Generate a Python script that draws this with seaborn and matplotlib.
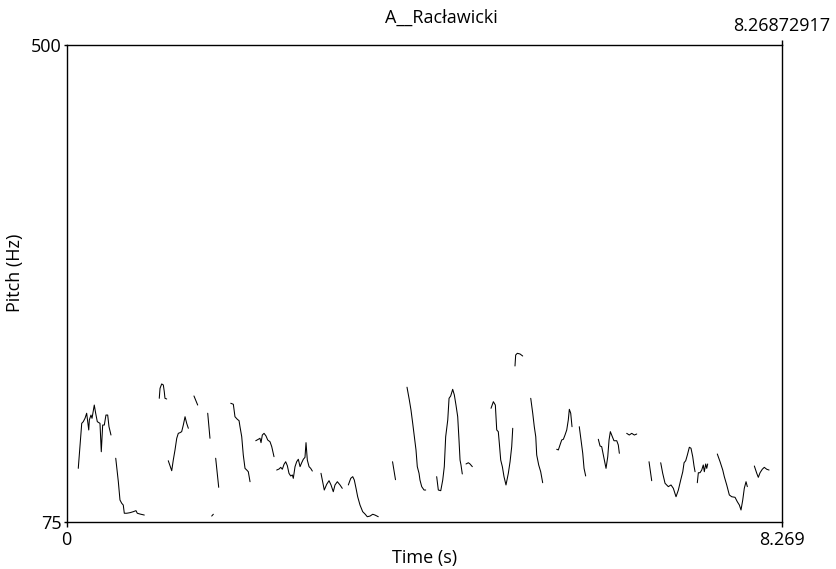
import numpy as np
import pandas as pd
import matplotlib
matplotlib.use("Agg")
import matplotlib.pyplot as plt
import seaborn as sns

# ----------------- chart data -----------------
TITLE = "A__Racławicki"
X_LABEL = "Time (s)"
Y_LABEL = "Pitch (Hz)"
T_MIN, T_MAX = 0.0, 8.26872917
F_MIN, F_MAX = 75, 500
X_TICK_LABELS = ["0", "8.269"]
Y_TICK_LABELS = ["75", "500"]
TOP_LABEL = "8.26872917"

# voiced stretches of the pitch track: time in s, pitch in Hz
seg_times = [
    [0.136, 0.176, 0.194, 0.214, 0.233, 0.257, 0.264, 0.283, 0.295, 0.321, 0.337, 0.356, 0.387, 0.402, 0.418, 0.437, 0.456, 0.476, 0.491, 0.514],
    [0.569, 0.599, 0.618, 0.638, 0.656, 0.668, 0.696, 0.734, 0.772, 0.803, 0.818, 0.849, 0.899],
    [1.072, 1.081, 1.100, 1.119, 1.130, 1.138, 1.158],
    [1.176, 1.216, 1.234, 1.254, 1.274, 1.292, 1.312, 1.331, 1.350, 1.370, 1.389, 1.408],
    [1.473, 1.516],
    [1.632, 1.658],
    [1.678, 1.697],
    [1.724, 1.759],
    [1.898, 1.928, 1.947, 1.974, 1.994, 2.005, 2.025, 2.043, 2.063, 2.083, 2.101, 2.121],
    [2.187, 2.217, 2.236, 2.248, 2.263, 2.283, 2.306, 2.325, 2.352, 2.372, 2.398],
    [2.429, 2.456, 2.476, 2.494, 2.514, 2.533, 2.552, 2.571, 2.591, 2.610, 2.621, 2.641, 2.660, 2.679, 2.699, 2.718, 2.737, 2.756, 2.768, 2.783, 2.803, 2.822, 2.841],
    [2.941, 2.979, 3.007, 3.034, 3.057, 3.083, 3.103, 3.130, 3.161, 3.187],
    [3.257, 3.285, 3.308, 3.326, 3.346, 3.365, 3.392, 3.423, 3.450, 3.476, 3.508, 3.539, 3.565, 3.603],
    [3.768, 3.802],
    [3.935, 3.962, 3.981, 4.001, 4.020, 4.039, 4.054, 4.074, 4.085, 4.105, 4.132, 4.151],
    [4.278, 4.297, 4.325, 4.348, 4.366, 4.382, 4.406, 4.421, 4.440, 4.463, 4.482, 4.501, 4.521, 4.536, 4.548, 4.559, 4.574],
    [4.617, 4.644, 4.663, 4.690],
    [4.906, 4.933, 4.956, 4.972, 4.990, 5.002, 5.018, 5.037, 5.056, 5.079, 5.106, 5.126, 5.145, 5.157],
    [5.183, 5.191, 5.210, 5.241, 5.272],
    [5.365, 5.388, 5.406, 5.423, 5.434, 5.457, 5.480, 5.503],
    [5.665, 5.684, 5.703, 5.723, 5.742, 5.761, 5.781, 5.799, 5.811, 5.827, 5.842],
    [5.926, 5.946, 5.966, 5.981, 6.000],
    [6.146, 6.166, 6.185, 6.204, 6.235, 6.255, 6.270, 6.285, 6.308, 6.327, 6.359, 6.377, 6.389],
    [6.474, 6.504, 6.532, 6.562, 6.590],
    [6.732, 6.763],
    [6.867, 6.890, 6.917, 6.955, 6.986, 7.013, 7.044, 7.071, 7.098, 7.122, 7.137, 7.156, 7.175, 7.198, 7.217, 7.237, 7.252, 7.264],
    [7.290, 7.302, 7.321, 7.341, 7.359, 7.371, 7.387, 7.399, 7.410],
    [7.521, 7.553, 7.584, 7.602, 7.630, 7.660, 7.688, 7.726, 7.752, 7.776, 7.795, 7.815, 7.833, 7.853, 7.868],
    [7.949, 7.977, 7.995, 8.015, 8.041, 8.064, 8.092, 8.119],
]
seg_pitch = [
    [122.8, 162.9, 164.4, 167.4, 171.9, 157.0, 165.9, 170.3, 167.4, 179.2, 171.9, 164.4, 162.9, 137.6, 161.4, 161.4, 170.3, 170.3, 159.9, 152.5],
    [131.8, 110.9, 94.6, 91.7, 90.1, 82.8, 82.8, 83.3, 84.2, 85.1, 82.8, 82.1, 81.2],
    [185.2, 194.1, 198.0, 197.1, 191.1, 185.2, 184.6],
    [129.6, 120.7, 130.2, 139.2, 149.6, 154.0, 154.6, 155.5, 161.4, 168.8, 162.9, 158.5],
    [187.3, 179.2],
    [171.9, 149.6],
    [80.3, 81.9],
    [131.8, 105.9],
    [180.8, 179.9, 168.8, 166.5, 165.3, 159.9, 151.0, 134.7, 122.8, 121.3, 119.8, 110.9],
    [147.4, 148.7, 149.6, 145.7, 152.5, 154.0, 151.6, 148.1, 146.5, 142.1, 133.2],
    [121.3, 122.2, 123.7, 122.0, 126.4, 128.7, 125.2, 118.4, 116.0, 116.9, 113.9, 124.3, 128.7, 130.9, 124.3, 127.8, 130.9, 132.6, 145.7, 130.2, 124.3, 122.8, 120.4],
    [118.4, 103.5, 108.6, 111.8, 108.0, 102.0, 108.0, 110.9, 108.0, 105.0],
    [108.0, 113.9, 115.4, 112.4, 105.0, 97.5, 90.1, 84.2, 82.1, 79.7, 80.3, 81.9, 81.2, 79.7],
    [128.7, 112.7],
    [195.1, 183.7, 174.8, 162.9, 151.0, 139.2, 124.3, 118.4, 112.4, 106.5, 103.5, 103.5],
    [115.4, 103.5, 102.9, 112.4, 124.3, 151.0, 165.9, 185.2, 187.3, 193.2, 188.2, 179.2, 168.8, 148.1, 130.2, 125.8, 117.8],
    [126.7, 127.8, 126.7, 124.3],
    [176.3, 182.2, 179.2, 157.0, 155.5, 145.1, 130.2, 124.3, 115.4, 108.0, 118.4, 128.7, 142.1, 158.5],
    [214.0, 223.8, 225.3, 224.7, 222.9],
    [185.2, 171.9, 159.9, 151.0, 134.7, 125.8, 119.8, 110.0],
    [139.8, 139.2, 143.6, 148.1, 148.7, 152.5, 157.0, 165.9, 175.4, 171.9, 159.9],
    [159.9, 148.1, 136.2, 122.8, 116.0],
    [148.7, 142.7, 142.1, 134.7, 122.8, 133.2, 148.1, 155.5, 151.0, 147.4, 147.4, 143.6, 136.2],
    [154.0, 152.5, 154.0, 152.5, 153.4],
    [128.7, 111.8],
    [127.8, 118.4, 109.5, 106.5, 108.0, 105.0, 97.5, 103.5, 112.4, 119.8, 127.8, 129.6, 134.7, 141.6, 140.7, 133.2, 124.9, 119.8],
    [110.0, 118.9, 118.9, 121.3, 125.8, 119.8, 126.7, 122.8, 126.7],
    [135.6, 128.7, 121.3, 115.4, 108.0, 99.1, 97.5, 97.0, 93.1, 90.1, 85.7, 94.6, 105.0, 110.9, 106.5],
    [124.9, 118.4, 114.8, 118.9, 122.0, 123.7, 122.0, 121.3],
]
# -----------------------------------------------------------------------

rows = []
for i, (ts, fs) in enumerate(zip(seg_times, seg_pitch)):
    for t, f in zip(ts, fs):
        rows.append({"seg": i, "time": t, "pitch": f})
df = pd.DataFrame(rows)

sns.set_style("white")
plt.rcParams["font.family"] = ["Open Sans", "DejaVu Sans"]
plt.rcParams["text.color"] = "black"
plt.rcParams["axes.labelcolor"] = "black"
plt.rcParams["xtick.color"] = "black"
plt.rcParams["ytick.color"] = "black"
FS = 13

fig = plt.figure(figsize=(8.37, 5.69), dpi=100)
ax = fig.add_axes([66.5 / 837, 1 - 522 / 569, (782 - 66.5) / 837, (522 - 45) / 569])

sns.lineplot(data=df, x="time", y="pitch", units="seg", estimator=None,
             sort=False, color="black", linewidth=0.75, ax=ax)

ax.set_xlim(T_MIN, T_MAX)
ax.set_ylim(F_MIN, F_MAX)
for sp in ax.spines.values():
    sp.set_visible(True)
    sp.set_color("black")
    sp.set_linewidth(1.0)

ax.set_xticks([T_MIN, T_MAX])
ax.set_xticklabels(X_TICK_LABELS)
ax.set_yticks([F_MIN, F_MAX])
ax.set_yticklabels(Y_TICK_LABELS)
ax.tick_params(axis="x", direction="out", length=3.5, width=1.0, pad=3,
               labelsize=FS, colors="black", bottom=True)
ax.tick_params(axis="y", direction="out", length=2.5, width=1.0, pad=1,
               labelsize=FS, colors="black", left=True)

top = ax.secondary_xaxis("top")
top.set_xticks([T_MAX])
top.set_xticklabels([TOP_LABEL])
top.tick_params(direction="out", length=3.5, width=1.0, pad=4, labelsize=FS,
                colors="black")
top.spines["top"].set_visible(False)

ax.set_xlabel(X_LABEL, fontsize=FS, color="black")
ax.set_ylabel(Y_LABEL, fontsize=FS, color="black")
ax.xaxis.set_label_coords(0.5, -0.057)
ax.yaxis.set_label_coords(-0.06, 0.523)

fig.text(441.5 / 837, 1 - 22.7 / 569, TITLE, ha="center", va="baseline",
         fontsize=FS, color="black")

fig.savefig("out.png", dpi=100)
